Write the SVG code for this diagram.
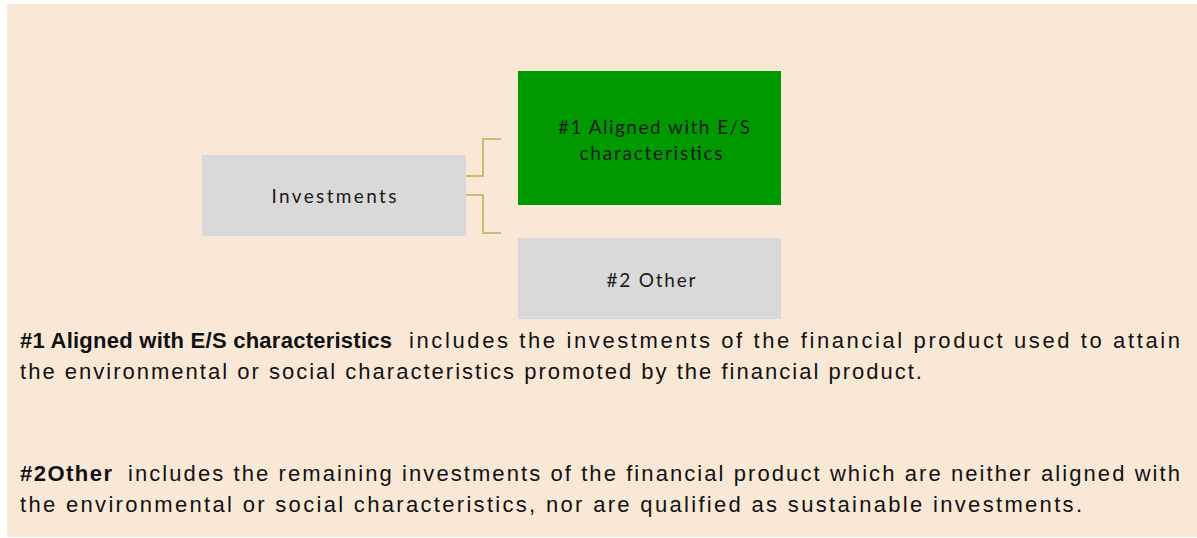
<svg xmlns="http://www.w3.org/2000/svg" width="1197" height="538" viewBox="0 0 1197 538">
<style>
.node{fill:#D9D9D9}
.ntext{font-family:Lato,"Liberation Sans",sans-serif;font-size:19px;fill:#1a1a1a;text-anchor:middle}
.conn{fill:none;stroke:#C9BD72;stroke-width:2}
.body{font-family:"Liberation Sans",Arial,sans-serif;font-size:22px;fill:#111}
.b{font-weight:bold}
</style>
<rect x="0" y="0" width="1197" height="538" fill="#FFFFFF"/>
<rect x="7" y="4" width="1190" height="533" fill="#FAE8D7"/>
<g id="connectors">
<path class="conn" d="M466,176 H483 V139 H501"/>
<path class="conn" d="M466,195 H483 V233 H501"/>
</g>
<g id="investments">
<rect class="node" x="202" y="155" width="264" height="81"/>
<text class="ntext" x="334" y="203" textLength="125" lengthAdjust="spacing">Investments</text>
</g>
<g id="aligned">
<rect x="518" y="71" width="263" height="134" fill="#009900"/>
<text class="ntext" x="654" y="134" textLength="192" lengthAdjust="spacing">#1 Aligned with E/S</text>
<text class="ntext" x="651" y="160" textLength="143" lengthAdjust="spacing">characteristics</text>
</g>
<g id="other">
<rect class="node" x="518" y="238" width="263" height="81"/>
<text class="ntext" x="651" y="287" textLength="89" lengthAdjust="spacing">#2 Other</text>
</g>
<g id="legend">
<text class="body b" x="20" y="348" textLength="372" lengthAdjust="spacing">#1 Aligned with E/S characteristics</text>
<text class="body" x="409" y="348" textLength="771" lengthAdjust="spacing">includes the investments of the financial product used to attain</text>
<text class="body" x="20" y="379" textLength="902" lengthAdjust="spacing">the environmental  or social characteristics promoted by the financial product.</text>
<text class="body b" x="20" y="481" textLength="92" lengthAdjust="spacing">#2Other</text>
<text class="body" x="128" y="481" textLength="1052" lengthAdjust="spacing">includes the remaining  investments of the financial product which are neither aligned with</text>
<text class="body" x="20" y="512" textLength="1062" lengthAdjust="spacing">the environmental  or social characteristics, nor are qualified as sustainable investments.</text>
</g>
</svg>
